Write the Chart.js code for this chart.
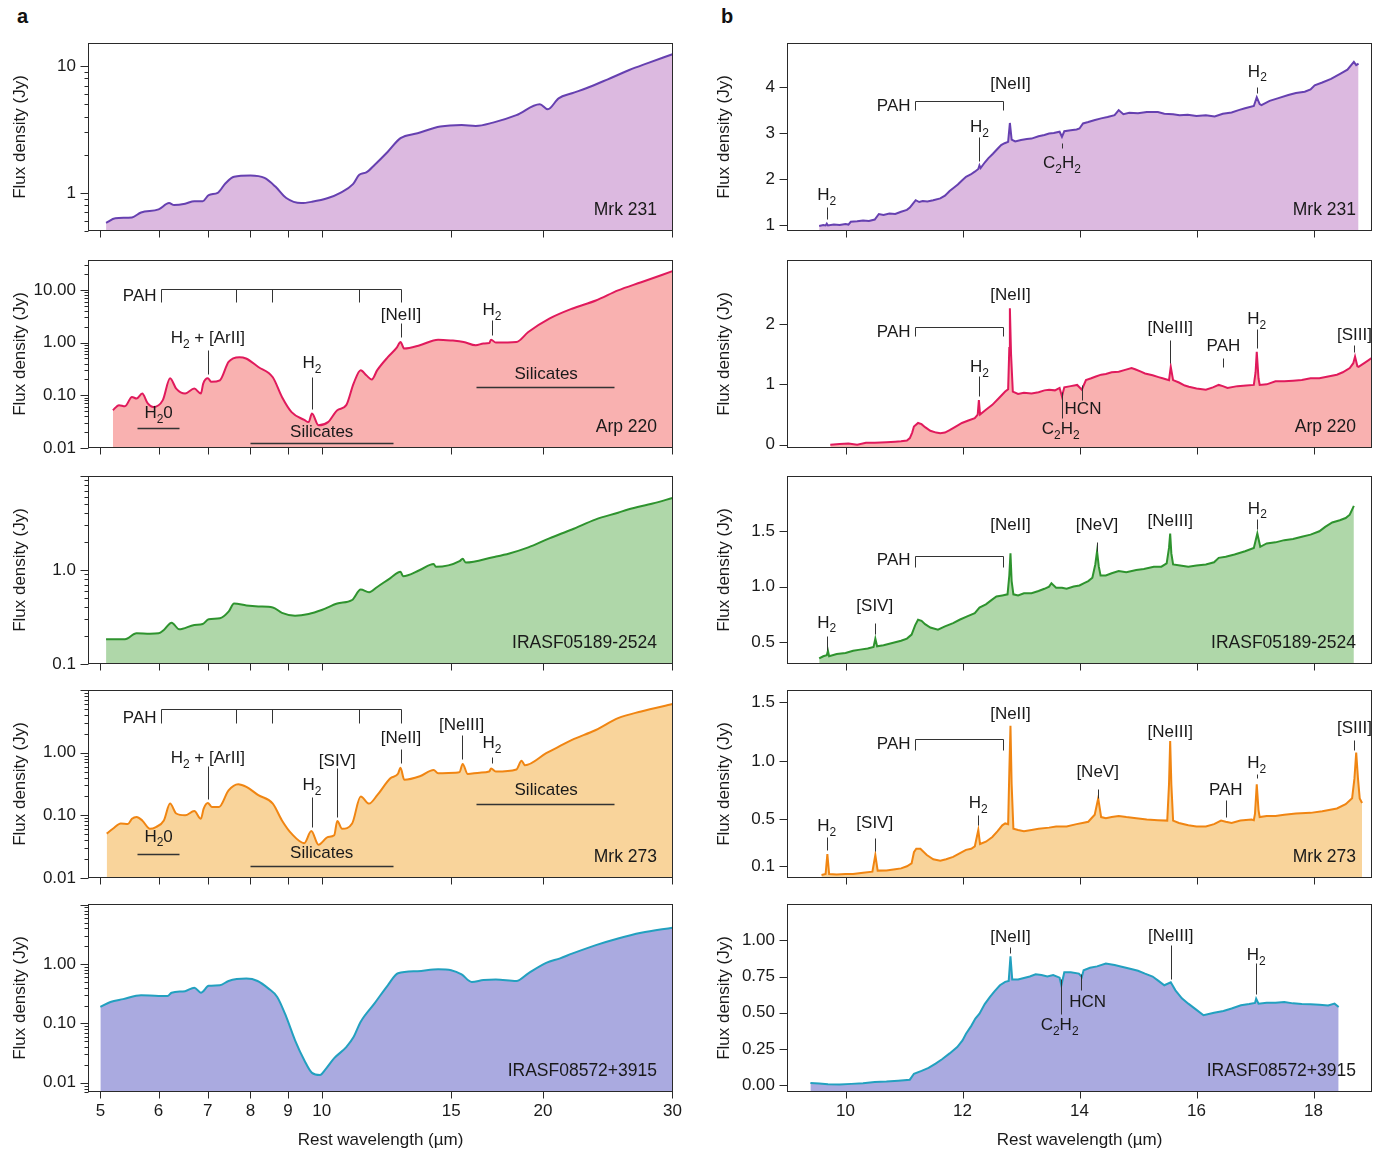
<!DOCTYPE html>
<html>
<head>
<meta charset="utf-8">
<script src="https://cdn.jsdelivr.net/npm/chart.js@4.4.0/dist/chart.umd.min.js"></script>
<style>
body { margin: 0; background: #fff; width: 1384px; height: 1151px; position: relative; overflow: hidden; font-family: "Liberation Sans", Arial, Helvetica, sans-serif; }
canvas { position: absolute; }
.tag { position: absolute; font-weight: bold; font-size: 20px; color: #111; }
</style>
</head>
<body>
<div class="tag" style="left:17px;top:5px">a</div>
<div class="tag" style="left:721px;top:5px">b</div>
<script>
// ---- spectra, [wavelength (um), flux density (Jy)] ----
var leftMrk231 = [[5.09,0.58],[5.24,0.63],[5.52,0.64],[5.68,0.70],[6.0,0.74],[6.2,0.83],[6.3,0.80],[6.52,0.82],[6.71,0.86],[6.89,0.86],[7.02,0.96],[7.22,1.0],[7.4,1.19],[7.6,1.34],[8.0,1.37],[8.36,1.31],[8.65,1.12],[8.95,0.91],[9.38,0.83],[9.7,0.85],[10.2,0.91],[10.6,1.0],[11.03,1.17],[11.25,1.39],[11.5,1.45],[11.8,1.66],[12.3,2.11],[12.8,2.7],[13.5,2.95],[14.5,3.33],[15.5,3.43],[16.2,3.37],[17.1,3.58],[18.4,4.1],[19.8,5.0],[20.3,4.56],[21.0,5.56],[21.9,6.1],[22.9,6.68],[24.5,7.86],[26.2,9.3],[27.7,10.5],[30,12.4]];
var leftArp220 = [[5.2,0.052],[5.3,0.065],[5.4,0.062],[5.52,0.093],[5.6,0.087],[5.7,0.108],[5.8,0.07],[5.9,0.06],[6.08,0.081],[6.22,0.21],[6.34,0.134],[6.52,0.108],[6.71,0.134],[6.85,0.108],[6.9,0.167],[7.0,0.21],[7.08,0.18],[7.27,0.193],[7.47,0.43],[7.73,0.53],[7.89,0.50],[8.2,0.345],[8.58,0.22],[8.83,0.093],[9.1,0.048],[9.47,0.034],[9.6,0.031],[9.7,0.045],[9.9,0.027],[10.2,0.031],[10.5,0.052],[10.8,0.065],[11.05,0.167],[11.3,0.30],[11.5,0.24],[11.7,0.20],[11.9,0.30],[12.3,0.53],[12.65,0.8],[12.8,1.03],[12.95,0.77],[13.6,0.89],[14.4,1.14],[15.0,1.1],[15.6,1.03],[16.2,0.89],[16.6,0.96],[16.9,0.98],[17.0,1.14],[17.25,1.0],[18.4,1.03],[19.1,1.59],[20.4,2.85],[21.9,4.4],[23.6,6.3],[25.3,9.8],[27.2,14.0],[30,22.7]];
var leftIras05189 = [[5.09,0.183],[5.4,0.183],[5.6,0.212],[5.84,0.21],[6.0,0.212],[6.1,0.23],[6.25,0.275],[6.4,0.234],[6.71,0.26],[6.89,0.266],[7.02,0.30],[7.27,0.306],[7.47,0.36],[7.6,0.44],[7.9,0.42],[8.2,0.41],[8.58,0.40],[8.83,0.35],[9.2,0.326],[9.6,0.34],[10.0,0.375],[10.5,0.44],[11.0,0.48],[11.3,0.62],[11.6,0.58],[11.9,0.66],[12.4,0.82],[12.8,0.96],[12.9,0.86],[13.6,1.0],[14.2,1.16],[14.3,1.08],[15.4,1.24],[15.55,1.32],[15.7,1.2],[17.1,1.37],[18.0,1.5],[19.1,1.74],[20.4,2.17],[21.9,2.7],[23.6,3.46],[25.3,4.07],[26.1,4.4],[28.2,5.1],[30,5.83]];
var leftMrk273 = [[5.1,0.051],[5.2,0.061],[5.33,0.074],[5.45,0.073],[5.52,0.088],[5.6,0.094],[5.7,0.083],[5.84,0.061],[5.95,0.065],[6.1,0.083],[6.22,0.154],[6.34,0.107],[6.52,0.1],[6.71,0.117],[6.85,0.088],[6.91,0.128],[7.0,0.158],[7.09,0.136],[7.25,0.136],[7.47,0.25],[7.7,0.314],[7.9,0.285],[8.2,0.21],[8.58,0.154],[8.83,0.083],[9.1,0.051],[9.47,0.036],[9.68,0.056],[9.9,0.034],[10.2,0.045],[10.4,0.048],[10.5,0.081],[10.66,0.061],[11.0,0.074],[11.3,0.2],[11.6,0.154],[11.9,0.21],[12.4,0.39],[12.7,0.46],[12.8,0.575],[12.95,0.37],[13.6,0.42],[14.2,0.53],[14.4,0.47],[15.2,0.48],[15.4,0.49],[15.55,0.66],[15.8,0.455],[16.4,0.48],[16.9,0.5],[17.0,0.56],[17.25,0.5],[18.4,0.54],[18.7,0.74],[18.9,0.63],[20.2,0.98],[21.1,1.28],[21.9,1.6],[23.6,2.3],[25.3,3.56],[27.2,4.55],[30,5.98]];
var leftIras08572 = [[5.0,0.19],[5.16,0.23],[5.37,0.257],[5.68,0.30],[6.0,0.29],[6.17,0.29],[6.25,0.33],[6.52,0.35],[6.71,0.40],[6.85,0.33],[7.02,0.43],[7.27,0.44],[7.47,0.52],[7.9,0.57],[8.18,0.52],[8.46,0.39],[8.7,0.28],[8.95,0.129],[9.2,0.052],[9.47,0.024],[9.7,0.0147],[9.95,0.0135],[10.1,0.0163],[10.4,0.026],[10.8,0.04],[11.05,0.059],[11.3,0.107],[11.8,0.218],[12.3,0.44],[12.7,0.70],[13.5,0.76],[14.4,0.82],[15.0,0.79],[15.5,0.67],[16.0,0.50],[16.6,0.54],[17.25,0.55],[18.4,0.52],[19.1,0.70],[20.2,1.05],[21.1,1.25],[21.9,1.5],[23.6,2.09],[25.3,2.71],[27.2,3.37],[30,4.1]];

var rightMrk231 = [[9.55,0.98],[9.62,1.0],[9.66,0.99],[9.68,1.03],[9.7,0.99],[9.8,1.01],[9.9,1.0],[10.0,1.02],[10.05,1.01],[10.09,1.07],[10.2,1.08],[10.3,1.1],[10.4,1.09],[10.5,1.12],[10.57,1.24],[10.65,1.22],[10.75,1.25],[10.85,1.24],[10.95,1.29],[11.05,1.33],[11.1,1.38],[11.15,1.46],[11.2,1.54],[11.26,1.5],[11.32,1.52],[11.4,1.51],[11.5,1.54],[11.62,1.58],[11.7,1.64],[11.78,1.74],[11.84,1.80],[11.92,1.88],[12.0,1.98],[12.06,2.05],[12.14,2.1],[12.21,2.16],[12.27,2.22],[12.29,2.30],[12.31,2.24],[12.38,2.36],[12.44,2.45],[12.52,2.55],[12.6,2.66],[12.66,2.74],[12.72,2.78],[12.78,2.81],[12.81,3.22],[12.84,2.86],[12.9,2.82],[13.0,2.85],[13.1,2.87],[13.18,2.88],[13.3,2.93],[13.4,2.96],[13.48,2.99],[13.56,3.0],[13.66,3.03],[13.7,2.92],[13.74,3.04],[13.85,3.06],[13.95,3.08],[14.0,3.1],[14.06,3.21],[14.15,3.24],[14.25,3.28],[14.37,3.32],[14.48,3.35],[14.6,3.39],[14.67,3.5],[14.75,3.41],[14.85,3.44],[15.0,3.43],[15.15,3.46],[15.34,3.46],[15.45,3.42],[15.6,3.41],[15.71,3.39],[15.85,3.4],[16.0,3.37],[16.16,3.39],[16.31,3.36],[16.45,3.42],[16.6,3.45],[16.72,3.5],[16.83,3.54],[16.98,3.59],[17.03,3.78],[17.08,3.63],[17.11,3.61],[17.25,3.7],[17.4,3.76],[17.57,3.83],[17.7,3.87],[17.85,3.9],[17.95,3.95],[18.02,4.04],[18.15,4.1],[18.3,4.18],[18.47,4.3],[18.58,4.38],[18.69,4.55],[18.73,4.48],[18.77,4.51]];
var rightArp220 = [[9.74,0.0],[9.9,0.01],[10.05,0.02],[10.2,0.0],[10.35,0.03],[10.5,0.03],[10.7,0.04],[10.85,0.05],[10.95,0.055],[11.05,0.07],[11.1,0.11],[11.14,0.2],[11.17,0.30],[11.24,0.36],[11.3,0.34],[11.36,0.29],[11.45,0.23],[11.55,0.2],[11.62,0.19],[11.7,0.2],[11.78,0.24],[11.84,0.275],[11.92,0.32],[11.99,0.36],[12.1,0.4],[12.21,0.44],[12.26,0.50],[12.28,0.74],[12.3,0.50],[12.4,0.58],[12.51,0.66],[12.62,0.77],[12.73,0.88],[12.78,0.92],[12.8,1.6],[12.81,2.26],[12.83,1.5],[12.86,0.88],[12.95,0.84],[13.05,0.86],[13.18,0.85],[13.3,0.87],[13.4,0.9],[13.48,0.91],[13.58,0.9],[13.66,0.94],[13.7,0.80],[13.74,0.95],[13.85,0.97],[13.96,0.99],[14.04,0.91],[14.11,1.07],[14.2,1.1],[14.28,1.13],[14.37,1.16],[14.45,1.17],[14.55,1.2],[14.67,1.21],[14.78,1.24],[14.89,1.27],[14.95,1.25],[15.05,1.21],[15.12,1.18],[15.25,1.15],[15.35,1.12],[15.42,1.10],[15.53,1.07],[15.56,1.29],[15.6,1.07],[15.7,1.03],[15.8,0.98],[15.87,0.96],[16.0,0.93],[16.16,0.91],[16.28,0.95],[16.38,0.99],[16.45,0.97],[16.53,0.94],[16.7,0.97],[16.85,0.98],[16.98,0.99],[17.01,1.2],[17.03,1.54],[17.06,1.1],[17.08,0.99],[17.2,1.0],[17.35,1.05],[17.5,1.05],[17.65,1.06],[17.8,1.07],[17.95,1.10],[18.1,1.1],[18.25,1.13],[18.4,1.16],[18.5,1.2],[18.62,1.27],[18.68,1.35],[18.71,1.46],[18.75,1.3],[18.77,1.29],[18.88,1.36],[19.0,1.44]];
var rightIras05189 = [[9.55,0.35],[9.62,0.37],[9.68,0.38],[9.7,0.42],[9.72,0.37],[9.85,0.39],[10.0,0.4],[10.13,0.42],[10.25,0.43],[10.38,0.44],[10.48,0.455],[10.51,0.53],[10.54,0.46],[10.65,0.47],[10.8,0.49],[10.95,0.51],[11.05,0.53],[11.13,0.566],[11.19,0.65],[11.24,0.70],[11.3,0.69],[11.36,0.66],[11.45,0.63],[11.58,0.61],[11.7,0.64],[11.84,0.67],[11.95,0.7],[12.08,0.73],[12.21,0.76],[12.29,0.81],[12.4,0.84],[12.5,0.88],[12.58,0.91],[12.68,0.92],[12.77,0.93],[12.8,1.1],[12.82,1.30],[12.84,1.05],[12.87,0.93],[12.95,0.92],[13.05,0.94],[13.18,0.94],[13.3,0.96],[13.4,0.98],[13.48,1.0],[13.52,1.03],[13.6,0.99],[13.7,0.99],[13.78,0.98],[13.9,1.0],[14.0,1.01],[14.07,1.03],[14.15,1.05],[14.22,1.08],[14.27,1.2],[14.3,1.32],[14.33,1.18],[14.36,1.1],[14.45,1.1],[14.55,1.12],[14.67,1.14],[14.8,1.13],[14.97,1.15],[15.1,1.16],[15.27,1.18],[15.4,1.18],[15.49,1.21],[15.53,1.35],[15.55,1.48],[15.57,1.3],[15.6,1.2],[15.72,1.19],[15.86,1.18],[16.0,1.19],[16.16,1.2],[16.3,1.22],[16.38,1.26],[16.5,1.27],[16.65,1.29],[16.83,1.32],[16.98,1.35],[17.04,1.48],[17.09,1.36],[17.2,1.39],[17.35,1.4],[17.5,1.42],[17.65,1.43],[17.8,1.45],[17.95,1.47],[18.1,1.5],[18.2,1.54],[18.32,1.58],[18.45,1.6],[18.55,1.62],[18.62,1.65],[18.69,1.73]];
var rightMrk273 = [[9.59,0.026],[9.66,0.034],[9.69,0.205],[9.72,0.034],[9.85,0.03],[10.0,0.035],[10.13,0.034],[10.3,0.045],[10.46,0.054],[10.51,0.196],[10.55,0.063],[10.7,0.065],[10.85,0.075],[10.95,0.082],[11.05,0.1],[11.13,0.125],[11.17,0.22],[11.21,0.25],[11.28,0.25],[11.39,0.196],[11.5,0.16],[11.62,0.148],[11.72,0.16],[11.84,0.18],[11.95,0.21],[12.06,0.24],[12.15,0.25],[12.21,0.27],[12.27,0.41],[12.3,0.29],[12.4,0.31],[12.51,0.35],[12.6,0.4],[12.68,0.45],[12.73,0.466],[12.78,0.46],[12.8,0.9],[12.82,1.30],[12.84,0.8],[12.87,0.42],[12.95,0.41],[13.05,0.4],[13.18,0.41],[13.3,0.42],[13.48,0.43],[13.6,0.44],[13.78,0.44],[13.95,0.46],[14.05,0.47],[14.15,0.48],[14.26,0.54],[14.32,0.68],[14.37,0.52],[14.45,0.51],[14.55,0.52],[14.67,0.53],[14.8,0.52],[14.97,0.51],[15.15,0.5],[15.34,0.494],[15.5,0.49],[15.53,0.8],[15.55,1.17],[15.57,0.8],[15.6,0.49],[15.7,0.47],[15.86,0.45],[16.0,0.44],[16.16,0.44],[16.3,0.46],[16.42,0.49],[16.5,0.48],[16.6,0.47],[16.75,0.49],[16.94,0.5],[16.98,0.494],[17.0,0.55],[17.03,0.80],[17.06,0.58],[17.08,0.52],[17.2,0.53],[17.35,0.53],[17.5,0.54],[17.7,0.55],[17.95,0.556],[18.15,0.57],[18.4,0.594],[18.55,0.63],[18.66,0.68],[18.7,0.85],[18.73,1.07],[18.76,0.85],[18.79,0.68],[18.83,0.64]];
var rightIras08572 = [[9.4,0.016],[9.55,0.012],[9.7,0.008],[9.9,0.005],[10.1,0.01],[10.3,0.015],[10.5,0.023],[10.7,0.026],[10.9,0.032],[11.1,0.039],[11.17,0.08],[11.3,0.1],[11.42,0.12],[11.54,0.15],[11.65,0.18],[11.78,0.22],[11.91,0.264],[12.0,0.31],[12.06,0.356],[12.15,0.41],[12.22,0.46],[12.29,0.494],[12.38,0.56],[12.47,0.61],[12.55,0.65],[12.64,0.69],[12.73,0.713],[12.79,0.72],[12.82,0.89],[12.85,0.73],[12.95,0.73],[13.05,0.74],[13.15,0.75],[13.25,0.765],[13.35,0.76],[13.45,0.75],[13.55,0.76],[13.66,0.742],[13.69,0.69],[13.74,0.78],[13.85,0.78],[13.99,0.77],[14.04,0.747],[14.07,0.793],[14.18,0.81],[14.3,0.82],[14.45,0.84],[14.6,0.83],[14.74,0.816],[14.9,0.8],[15.0,0.79],[15.12,0.77],[15.25,0.75],[15.35,0.72],[15.45,0.69],[15.56,0.71],[15.64,0.655],[15.75,0.6],[15.86,0.563],[16.0,0.52],[16.12,0.483],[16.3,0.5],[16.46,0.513],[16.6,0.53],[16.76,0.552],[16.9,0.56],[17.0,0.568],[17.02,0.598],[17.06,0.563],[17.2,0.57],[17.35,0.57],[17.5,0.575],[17.65,0.565],[17.8,0.56],[17.95,0.559],[18.1,0.555],[18.25,0.55],[18.36,0.563],[18.43,0.54]];

// ---- ticks ----
var leftWaveTicks = [5, 6, 7, 8, 9, 10, 15, 20, 30];
var rightWaveTicks = [10, 12, 14, 16, 18];
var leftMrk231Ticks = [1, 10], leftMrk231Labels = ['1', '10'];
var leftArp220Ticks = [0.01, 0.1, 1, 10], leftArp220Labels = ['0.01', '0.10', '1.00', '10.00'];
var leftIras05189Ticks = [0.1, 1, 10], leftIras05189Labels = ['0.1', '1.0', ''];
var leftMrk273Ticks = [0.01, 0.1, 1, 10], leftMrk273Labels = ['0.01', '0.10', '1.00', ''];
var leftIras08572Ticks = [0.01, 0.1, 1, 10], leftIras08572Labels = ['0.01', '0.10', '1.00', ''];
var rightMrk231Ticks = [1, 2, 3, 4], rightMrk231Labels = ['1', '2', '3', '4'];
var rightArp220Ticks = [0, 1, 2], rightArp220Labels = ['0', '1', '2'];
var rightIras05189Ticks = [0.5, 1, 1.5], rightIras05189Labels = ['0.5', '1.0', '1.5'];
var rightMrk273Ticks = [0.1, 0.5, 1, 1.5], rightMrk273Labels = ['0.1', '0.5', '1.0', '1.5'];
var rightIras08572Ticks = [0, 0.25, 0.5, 0.75, 1], rightIras08572Labels = ['0.00', '0.25', '0.50', '0.75', '1.00'];

// ---- feature labels (data coordinates) ----
var pahLeft = [6.05, 7.65, 8.55, 11.25, 12.82];
var pahRight = [11.19, 12.70];
var leftArp220Notes = [
	{kind: 'bracket', t: 'PAH', xs: pahLeft, top: 10.5, bot: 5.9, ty: 7.5},
	{kind: 'label', t: '[NeII]', x: 12.82, y: 3.29, hi: 2.35, lo: 1.28},
	{kind: 'label', t: 'H_2', x: 17.05, y: 4.09, hi: 2.64, lo: 1.42},
	{kind: 'label', t: 'H_2 + [ArII]', x: 7.0, y: 1.19, hi: 0.715, lo: 0.259},
	{kind: 'label', t: 'H_2', x: 9.7, y: 0.40, hi: 0.223, lo: 0.054},
	{kind: 'bar', t: 'H_20', x: 6.0, y: 0.045, x0: 5.6, x1: 6.4, ly: 0.0236},
	{kind: 'bar', t: 'Silicates', x: 10.0, y: 0.0197, x0: 8.0, x1: 12.5, ly: 0.0127},
	{kind: 'bar', t: 'Silicates', x: 20.2, y: 0.25, x0: 16.2, x1: 25.0, ly: 0.144}
];
var leftMrk273Notes = [
	{kind: 'bracket', t: 'PAH', xs: pahLeft, top: 4.97, bot: 2.96, ty: 3.57},
	{kind: 'label', t: '[NeII]', x: 12.82, y: 1.70, hi: 1.13, lo: 0.676},
	{kind: 'label', t: '[NeIII]', x: 15.5, y: 2.78, hi: 1.92, lo: 0.78},
	{kind: 'label', t: 'H_2', x: 17.05, y: 1.41, hi: 0.84, lo: 0.676},
	{kind: 'label', t: 'H_2 + [ArII]', x: 7.0, y: 0.81, hi: 0.61, lo: 0.185},
	{kind: 'label', t: '[SIV]', x: 10.5, y: 0.72, hi: 0.56, lo: 0.094},
	{kind: 'label', t: 'H_2', x: 9.7, y: 0.30, hi: 0.197, lo: 0.064},
	{kind: 'bar', t: 'H_20', x: 6.0, y: 0.045, x0: 5.6, x1: 6.4, ly: 0.0244},
	{kind: 'bar', t: 'Silicates', x: 10.0, y: 0.0244, x0: 8.0, x1: 12.5, ly: 0.0154},
	{kind: 'bar', t: 'Silicates', x: 20.2, y: 0.252, x0: 16.2, x1: 25.0, ly: 0.149}
];
var rightMrk231Notes = [
	{kind: 'bracket', t: 'PAH', xs: pahRight, top: 3.70, bot: 3.5, ty: 3.59},
	{kind: 'label', t: '[NeII]', x: 12.82, y: 4.06},
	{kind: 'label', t: 'H_2', x: 12.29, y: 3.12, hi: 2.91, lo: 2.40},
	{kind: 'label', t: 'C_2H_2', x: 13.7, y: 2.34, hi: 2.79, lo: 2.67},
	{kind: 'label', t: 'H_2', x: 17.04, y: 4.33, hi: 4.01, lo: 3.88},
	{kind: 'label', t: 'H_2', x: 9.68, y: 1.64, hi: 1.40, lo: 1.14}
];
var rightArp220Notes = [
	{kind: 'bracket', t: 'PAH', xs: pahRight, top: 1.956, bot: 1.80, ty: 1.87},
	{kind: 'label', t: '[NeII]', x: 12.82, y: 2.48},
	{kind: 'label', t: 'H_2', x: 12.29, y: 1.28, hi: 1.14, lo: 0.81},
	{kind: 'label', t: 'C_2H_2', x: 13.7, tx: 13.68, y: 0.25, hi: 0.88, lo: 0.44},
	{kind: 'label', t: 'HCN', x: 14.04, tx: 14.06, y: 0.58, hi: 0.99, lo: 0.74},
	{kind: 'label', t: '[NeIII]', x: 15.55, y: 1.93, hi: 1.74, lo: 1.35},
	{kind: 'label', t: 'PAH', x: 16.46, y: 1.63, hi: 1.43, lo: 1.29},
	{kind: 'label', t: 'H_2', x: 17.03, y: 2.07, hi: 1.91, lo: 1.61},
	{kind: 'label', t: '[SIII]', x: 18.7, y: 1.82, hi: 1.65, lo: 1.53}
];
var rightIras05189Notes = [
	{kind: 'bracket', t: 'PAH', xs: pahRight, top: 1.28, bot: 1.18, ty: 1.24},
	{kind: 'label', t: '[NeII]', x: 12.82, y: 1.55},
	{kind: 'label', t: '[NeV]', x: 14.3, y: 1.55, hi: 1.40, lo: 1.32},
	{kind: 'label', t: '[NeIII]', x: 15.55, y: 1.59},
	{kind: 'label', t: 'H_2', x: 17.04, y: 1.70, hi: 1.61, lo: 1.52},
	{kind: 'label', t: '[SIV]', x: 10.5, y: 0.82, hi: 0.67, lo: 0.575},
	{kind: 'label', t: 'H_2', x: 9.68, y: 0.67, hi: 0.557, lo: 0.43}
];
var rightMrk273Notes = [
	{kind: 'bracket', t: 'PAH', xs: pahRight, top: 1.19, bot: 1.09, ty: 1.14},
	{kind: 'label', t: '[NeII]', x: 12.82, y: 1.40},
	{kind: 'label', t: '[NeV]', x: 14.31, y: 0.906, hi: 0.764, lo: 0.68},
	{kind: 'label', t: '[NeIII]', x: 15.55, y: 1.247},
	{kind: 'label', t: 'PAH', x: 16.5, y: 0.75, hi: 0.665, lo: 0.523},
	{kind: 'label', t: 'H_2', x: 17.03, y: 0.977, hi: 0.89, lo: 0.85},
	{kind: 'label', t: '[SIII]', x: 18.7, y: 1.276, hi: 1.18, lo: 1.09},
	{kind: 'label', t: 'H_2', x: 12.27, y: 0.636, hi: 0.537, lo: 0.45},
	{kind: 'label', t: 'H_2', x: 9.68, y: 0.44, hi: 0.35, lo: 0.24},
	{kind: 'label', t: '[SIV]', x: 10.5, y: 0.466, hi: 0.34, lo: 0.233}
];
var rightIras08572Notes = [
	{kind: 'label', t: '[NeII]', x: 12.82, y: 1.02, hi: 0.954, lo: 0.913},
	{kind: 'label', t: 'C_2H_2', x: 13.69, tx: 13.66, y: 0.414, hi: 0.736, lo: 0.494},
	{kind: 'label', t: 'HCN', x: 14.03, tx: 14.14, y: 0.575, hi: 0.77, lo: 0.66},
	{kind: 'label', t: '[NeIII]', x: 15.56, y: 1.03, hi: 0.966, lo: 0.736},
	{kind: 'label', t: 'H_2', x: 17.02, y: 0.897, hi: 0.84, lo: 0.628}
];

var fontFamily = '"Liberation Sans", Arial, Helvetica, sans-serif';
Chart.defaults.font.family = fontFamily;

var panels = [
	{col: 0, row: 0, data: leftMrk231, name: 'Mrk 231', line: '#6640b0', fill: '#dcb9e0', yMin: 0.5, yMax: 15.2, ticks: leftMrk231Ticks, labels: leftMrk231Labels, notes: []},
	{col: 0, row: 1, data: leftArp220, name: 'Arp 220', line: '#e01a5c', fill: '#f9b1b0', yMin: 0.01, yMax: 37, ticks: leftArp220Ticks, labels: leftArp220Labels, notes: leftArp220Notes},
	{col: 0, row: 2, data: leftIras05189, name: 'IRASF05189-2524', line: '#2e932e', fill: '#afd7a9', yMin: 0.1, yMax: 10, ticks: leftIras05189Ticks, labels: leftIras05189Labels, notes: []},
	{col: 0, row: 3, data: leftMrk273, name: 'Mrk 273', line: '#f08512', fill: '#f9d49b', yMin: 0.01, yMax: 10, ticks: leftMrk273Ticks, labels: leftMrk273Labels, notes: leftMrk273Notes},
	{col: 0, row: 4, data: leftIras08572, name: 'IRASF08572+3915', line: '#22a0bf', fill: '#aaaae0', yMin: 0.007, yMax: 10.3, ticks: leftIras08572Ticks, labels: leftIras08572Labels, notes: []},
	{col: 1, row: 0, data: rightMrk231, name: 'Mrk 231', line: '#6640b0', fill: '#dcb9e0', yMin: 0.87, yMax: 4.96, ticks: rightMrk231Ticks, labels: rightMrk231Labels, notes: rightMrk231Notes},
	{col: 1, row: 1, data: rightArp220, name: 'Arp 220', line: '#e01a5c', fill: '#f9b1b0', yMin: -0.055, yMax: 3.06, ticks: rightArp220Ticks, labels: rightArp220Labels, notes: rightArp220Notes},
	{col: 1, row: 2, data: rightIras05189, name: 'IRASF05189-2524', line: '#2e932e', fill: '#afd7a9', yMin: 0.30, yMax: 2.0, ticks: rightIras05189Ticks, labels: rightIras05189Labels, notes: rightIras05189Notes},
	{col: 1, row: 3, data: rightMrk273, name: 'Mrk 273', line: '#f08512', fill: '#f9d49b', yMin: 0.0, yMax: 1.605, ticks: rightMrk273Ticks, labels: rightMrk273Labels, notes: rightMrk273Notes},
	{col: 1, row: 4, data: rightIras08572, name: 'IRASF08572+3915', line: '#22a0bf', fill: '#aaaae0', yMin: -0.046, yMax: 1.25, ticks: rightIras08572Ticks, labels: rightIras08572Labels, notes: rightIras08572Notes}
];

var rowTops = [43, 260, 476, 690, 904];
var panelHeight = 188;

function drawRich(ctx, text, x, y, align) {
	var parts = text.split(/(_\d)/).filter(function (s) { return s; });
	var w = 0;
	parts.forEach(function (s) {
		var sub = s[0] == '_';
		ctx.font = (sub ? '12px ' : '17px ') + fontFamily;
		w += ctx.measureText(sub ? s.slice(1) : s).width;
	});
	var cx = align == 'right' ? x - w : x - w / 2;
	ctx.textAlign = 'left';
	ctx.textBaseline = 'middle';
	parts.forEach(function (s) {
		var sub = s[0] == '_';
		var str = sub ? s.slice(1) : s;
		ctx.font = (sub ? '12px ' : '17px ') + fontFamily;
		ctx.fillText(str, cx, sub ? y + 6 : y);
		cx += ctx.measureText(str).width;
	});
}

var decor = {
	id: 'decor',
	afterDraw: function (chart, args, opt) {
		var ctx = chart.ctx, a = chart.chartArea, sx = chart.scales.x, sy = chart.scales.y;
		function px(v) { return Math.round(sx.getPixelForValue(v)) + 0.5; }
		function py(v) { return Math.round(sy.getPixelForValue(v)) + 0.5; }
		ctx.save();
		ctx.fillStyle = '#1a1a1a';
		ctx.strokeStyle = '#333';
		ctx.lineWidth = 1;

		// feature labels
		opt.notes.forEach(function (n) {
			if (n.kind == 'bracket') {
				ctx.beginPath();
				ctx.moveTo(px(n.xs[0]), py(n.top));
				ctx.lineTo(px(n.xs[n.xs.length - 1]), py(n.top));
				n.xs.forEach(function (x) {
					ctx.moveTo(px(x), py(n.top));
					ctx.lineTo(px(x), py(n.bot));
				});
				ctx.stroke();
				drawRich(ctx, n.t, px(n.xs[0]) - 5, sy.getPixelForValue(n.ty), 'right');
			} else if (n.kind == 'bar') {
				ctx.beginPath();
				ctx.lineWidth = 1.5;
				ctx.moveTo(px(n.x0), py(n.ly));
				ctx.lineTo(px(n.x1), py(n.ly));
				ctx.stroke();
				ctx.lineWidth = 1;
				drawRich(ctx, n.t, sx.getPixelForValue(n.x), sy.getPixelForValue(n.y), 'center');
			} else {
				if (n.hi !== undefined) {
					ctx.beginPath();
					ctx.moveTo(px(n.x), py(n.hi));
					ctx.lineTo(px(n.x), py(n.lo));
					ctx.stroke();
				}
				drawRich(ctx, n.t, sx.getPixelForValue(n.tx !== undefined ? n.tx : n.x), sy.getPixelForValue(n.y), 'center');
			}
		});

		// sample name
		ctx.font = '17.5px ' + fontFamily;
		ctx.textAlign = 'right';
		ctx.textBaseline = 'middle';
		ctx.fillText(opt.name, a.right - 16, a.bottom - 21);

		// frame
		var l = Math.round(a.left) + 0.5, t = Math.round(a.top) + 0.5;
		var r = Math.round(a.right) - 0.5, b = Math.round(a.bottom) - 0.5;
		ctx.strokeStyle = '#2a2a2a';
		ctx.strokeRect(l, t, r - l, b - t);

		// y ticks
		ctx.beginPath();
		opt.yTicks.forEach(function (v) {
			var y = py(v);
			ctx.moveTo(l - 8, y);
			ctx.lineTo(l, y);
		});
		if (opt.log) {
			for (var d = Math.floor(Math.log10(sy.min)); d <= Math.ceil(Math.log10(sy.max)); d++) {
				for (var k = 2; k <= 9; k++) {
					var v = k * Math.pow(10, d);
					if (v < sy.min || v > sy.max) continue;
					var y = py(v);
					ctx.moveTo(l - 4, y);
					ctx.lineTo(l, y);
				}
			}
		}
		// x ticks
		opt.xTicks.forEach(function (v) {
			var x = px(v);
			ctx.moveTo(x, b);
			ctx.lineTo(x, b + 7);
		});
		ctx.stroke();

		if (opt.bottom) {
			ctx.font = '17px ' + fontFamily;
			ctx.textAlign = 'center';
			ctx.textBaseline = 'middle';
			opt.xTicks.forEach(function (v) {
				ctx.fillText(String(v), sx.getPixelForValue(v), b + 20);
			});
			ctx.fillText('Rest wavelength (\u00b5m)', (a.left + a.right) / 2, b + 49);
		}
		ctx.restore();
	}
};

panels.forEach(function (p) {
	var c = document.createElement('canvas');
	var left = p.col ? 700 : 0;
	var w = p.col ? 684 : 688;
	var bottomPad = p.row == 4 ? 58 : 22;
	var h = 14 + panelHeight + bottomPad;
	c.width = w;
	c.height = h;
	c.style.left = left + 'px';
	c.style.top = (rowTops[p.row] - 14) + 'px';
	c.style.width = w + 'px';
	c.style.height = h + 'px';
	document.body.appendChild(c);
	var isLog = p.col == 0;
	new Chart(c.getContext('2d'), {
		type: 'line',
		data: {
			datasets: [{
				data: p.data.map(function (d) { return {x: d[0], y: d[1]}; }),
				borderColor: p.line,
				backgroundColor: p.fill,
				borderWidth: 2,
				fill: 'start',
				pointRadius: 0,
				tension: isLog ? 0.35 : 0,
				cubicInterpolationMode: isLog ? 'monotone' : 'default'
			}]
		},
		options: {
			responsive: false,
			animation: false,
			devicePixelRatio: 1,
			layout: {padding: {top: 14, right: p.col ? 12 : 15, bottom: bottomPad, left: 0}},
			plugins: {
				legend: {display: false},
				tooltip: {enabled: false},
				decor: {
					name: p.name,
					notes: p.notes,
					xTicks: isLog ? leftWaveTicks : rightWaveTicks,
					yTicks: p.ticks,
					log: isLog,
					bottom: p.row == 4
				}
			},
			scales: {
				x: {
					type: isLog ? 'logarithmic' : 'linear',
					min: isLog ? 4.81 : 9.0,
					max: isLog ? 30.05 : 19.0,
					display: false
				},
				y: {
					type: isLog ? 'logarithmic' : 'linear',
					min: p.yMin,
					max: p.yMax,
					afterFit: function (s) {
						s.width = p.col ? 87 : 88;
						s.paddingTop = 0;
						s.paddingBottom = 0;
					},
					afterBuildTicks: function (s) {
						s.ticks = p.ticks.map(function (v) { return {value: v}; });
					},
					ticks: {
						autoSkip: false,
						padding: 12,
						color: '#1a1a1a',
						font: {size: 17},
						callback: function (v, i) { return p.labels[i]; }
					},
					grid: {display: false, drawTicks: false},
					border: {display: false},
					title: {
						display: true,
						text: 'Flux density (Jy)',
						color: '#1a1a1a',
						font: {size: 17},
						padding: {top: p.col ? 14 : 10, bottom: 0}
					}
				}
			}
		},
		plugins: [decor]
	});
});
</script>
</body>
</html>
